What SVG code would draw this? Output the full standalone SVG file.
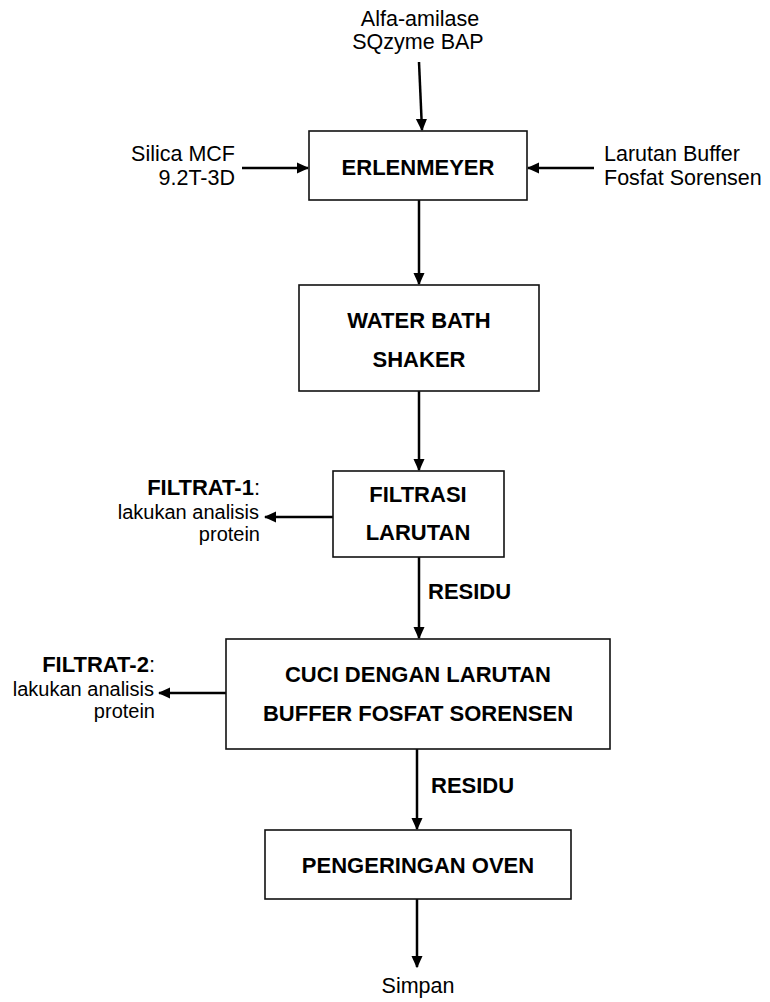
<svg xmlns="http://www.w3.org/2000/svg" width="770" height="1002" viewBox="0 0 770 1002">
<style>
.box{fill:#fff;stroke:#111;stroke-width:1.6}
.b{font-family:"Liberation Sans",Arial,sans-serif;font-weight:bold;font-size:22px;fill:#000}
.r{font-family:"Liberation Sans",Arial,sans-serif;font-size:21.5px;fill:#000}
.s{font-family:"Liberation Sans",Arial,sans-serif;font-size:20px;fill:#000}
.n{font-weight:normal}
.ln{stroke:#000;stroke-width:2.5;fill:none;marker-end:url(#ah)}
</style>
<defs>
<marker id="ah" viewBox="0 0 10 10" refX="9" refY="5" markerWidth="5" markerHeight="5" orient="auto" markerUnits="strokeWidth">
<path d="M0,0.5 L10,5 L0,9.5 z" fill="#000"/>
</marker>
</defs>
<rect width="770" height="1002" fill="#fff"/>
<g id="connectors">
<line class="ln" x1="419" y1="62" x2="422" y2="130"/>
<line class="ln" x1="242" y1="168" x2="308" y2="168"/>
<line class="ln" x1="594" y1="168" x2="528" y2="168"/>
<line class="ln" x1="419" y1="200" x2="419" y2="284"/>
<line class="ln" x1="419" y1="391" x2="419" y2="470"/>
<line class="ln" x1="333" y1="517" x2="265" y2="517"/>
<line class="ln" x1="419" y1="557" x2="419" y2="638"/>
<line class="ln" x1="226" y1="693" x2="159" y2="693"/>
<line class="ln" x1="417" y1="749" x2="417" y2="829"/>
<line class="ln" x1="417" y1="899" x2="417" y2="967"/>
<text class="b" x="428" y="599">RESIDU</text>
<text class="b" x="431" y="793">RESIDU</text>
</g>
<g id="in-top">
<text class="r" x="420" y="26" text-anchor="middle">Alfa-amilase</text>
<text class="r" x="418" y="49" text-anchor="middle">SQzyme BAP</text>
</g>
<g id="in-left">
<text class="r" x="235" y="161" text-anchor="end">Silica MCF</text>
<text class="r" x="235" y="185" text-anchor="end">9.2T-3D</text>
</g>
<g id="in-right">
<text class="r" x="604" y="161">Larutan Buffer</text>
<text class="r" x="604" y="185">Fosfat Sorensen</text>
</g>
<g id="erlenmeyer">
<rect class="box" x="309" y="131" width="218" height="69"/>
<text class="b" x="418" y="175" text-anchor="middle">ERLENMEYER</text>
</g>
<g id="waterbath">
<rect class="box" x="299" y="285" width="240" height="106"/>
<text class="b" x="419" y="328" text-anchor="middle">WATER BATH</text>
<text class="b" x="419" y="367" text-anchor="middle">SHAKER</text>
</g>
<g id="filtrasi">
<rect class="box" x="333" y="471" width="171" height="86"/>
<text class="b" x="418" y="502" text-anchor="middle">FILTRASI</text>
<text class="b" x="418" y="540" text-anchor="middle">LARUTAN</text>
</g>
<g id="filtrat1">
<text class="b" x="260" y="495" text-anchor="end">FILTRAT-1<tspan class="n">:</tspan></text>
<text class="s" x="259" y="519" text-anchor="end">lakukan analisis</text>
<text class="s" x="260" y="541" text-anchor="end">protein</text>
</g>
<g id="cuci">
<rect class="box" x="226" y="639" width="384" height="110"/>
<text class="b" x="418" y="682" text-anchor="middle">CUCI DENGAN LARUTAN</text>
<text class="b" x="418" y="721" text-anchor="middle">BUFFER FOSFAT SORENSEN</text>
</g>
<g id="filtrat2">
<text class="b" x="155" y="672" text-anchor="end">FILTRAT-2<tspan class="n">:</tspan></text>
<text class="s" x="154" y="696" text-anchor="end">lakukan analisis</text>
<text class="s" x="155" y="718" text-anchor="end">protein</text>
</g>
<g id="oven">
<rect class="box" x="265" y="830" width="306" height="69"/>
<text class="b" x="418" y="873" text-anchor="middle">PENGERINGAN OVEN</text>
</g>
<g id="out">
<text class="r" x="418" y="993" text-anchor="middle">Simpan</text>
</g>
</svg>
